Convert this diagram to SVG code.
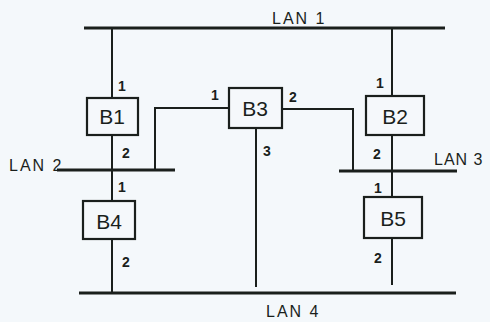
<svg xmlns="http://www.w3.org/2000/svg" width="490" height="322" viewBox="0 0 490 322">
<style>
.lan{stroke:#1a1f1c;stroke-width:3;fill:none}
.ln{stroke:#1a1f1c;stroke-width:2;fill:none}
.box{stroke:#1a1f1c;stroke-width:2.2;fill:#f5f8fb}
.t{font-family:"Liberation Sans",Arial,sans-serif;fill:#1a1f1c}
.bl{font-size:21px;text-anchor:middle}
.pl{font-size:14px;text-anchor:middle;font-weight:bold}
.ll{font-size:16px;letter-spacing:2px}
</style>
<rect width="490" height="322" fill="#f4f8fb"/>
<g id="connectors">
<line class="lan" x1="84" y1="28" x2="445" y2="28"/>
<line class="lan" x1="57" y1="170" x2="175" y2="170"/>
<line class="lan" x1="339" y1="171" x2="457" y2="171"/>
<line class="lan" x1="79" y1="293" x2="456" y2="293"/>
<line class="ln" x1="112" y1="28" x2="112" y2="293"/>
<line class="ln" x1="392" y1="28" x2="392" y2="285"/>
<polyline class="ln" points="229,108 155,108 155,170"/>
<polyline class="ln" points="282,109 353,109 353,171"/>
<line class="ln" x1="256" y1="128" x2="256" y2="287"/>
</g>
<g id="B1"><rect class="box" x="87" y="98" width="51" height="37"/><text class="t bl" x="112" y="124">B1</text></g>
<g id="B2"><rect class="box" x="366" y="96" width="58" height="39"/><text class="t bl" x="395" y="124">B2</text></g>
<g id="B3"><rect class="box" x="229" y="88" width="53" height="40"/><text class="t bl" x="255" y="116">B3</text></g>
<g id="B4"><rect class="box" x="83" y="201" width="52" height="38"/><text class="t bl" x="109" y="229">B4</text></g>
<g id="B5"><rect class="box" x="364" y="197" width="58" height="41"/><text class="t bl" x="393" y="226">B5</text></g>
<g id="labels">
<text class="t ll" x="272" y="24">LAN 1</text>
<text class="t ll" x="9" y="171">LAN 2</text>
<text class="t ll" x="434" y="165" style="letter-spacing:1px">LAN 3</text>
<text class="t ll" x="266" y="317">LAN 4</text>
<text class="t pl" x="122" y="91">1</text>
<text class="t pl" x="126" y="158">2</text>
<text class="t pl" x="122" y="192">1</text>
<text class="t pl" x="126" y="267">2</text>
<text class="t pl" x="215" y="100">1</text>
<text class="t pl" x="293" y="102">2</text>
<text class="t pl" x="267" y="156">3</text>
<text class="t pl" x="380" y="88">1</text>
<text class="t pl" x="377" y="159">2</text>
<text class="t pl" x="378" y="193">1</text>
<text class="t pl" x="378" y="263">2</text>
</g>
</svg>
